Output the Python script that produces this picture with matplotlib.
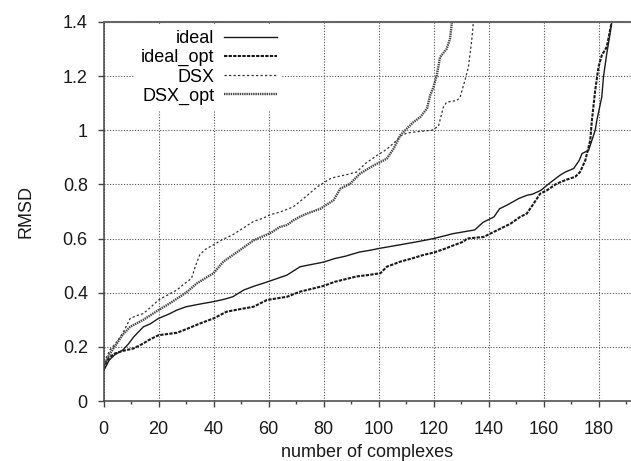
import matplotlib
matplotlib.use("Agg")
import matplotlib.pyplot as plt
from matplotlib.ticker import MultipleLocator

plt.rcParams['font.family'] = ['Liberation Sans', 'DejaVu Sans']

# Cumulative RMSD curves: complexes sorted by RMSD for each docking setup
ideal_x = [0, 2, 4, 7, 9, 11, 14.5, 17, 20, 24, 26.7, 30, 35, 40, 44, 47, 51, 55, 59, 63,
           66.7, 71.5, 76, 80, 84, 88, 93, 97, 101, 105, 110, 115, 120, 124, 127, 131, 135,
           138, 142, 144, 147, 151, 154, 156, 159, 162, 166, 168, 171, 173, 174, 176.4,
           177.6, 178.8, 179.4, 181.2, 181.8, 183, 184.2, 184.8, 185.5]
ideal_y = [0.11, 0.15, 0.17, 0.188, 0.21, 0.237, 0.274, 0.285, 0.305, 0.322, 0.336, 0.348,
           0.358, 0.367, 0.376, 0.385, 0.41, 0.425, 0.438, 0.452, 0.465, 0.496, 0.505,
           0.513, 0.526, 0.535, 0.55, 0.557, 0.565, 0.572, 0.581, 0.59, 0.6, 0.61, 0.618,
           0.625, 0.632, 0.66, 0.68, 0.71, 0.725, 0.748, 0.76, 0.764, 0.778, 0.803, 0.834,
           0.846, 0.859, 0.889, 0.914, 0.926, 0.963, 1.0, 1.037, 1.123, 1.197, 1.283, 1.357,
           1.4, 1.45]

ideal_opt_x = [0, 2, 4, 7, 10.9, 14, 17, 20, 26.7, 30, 35, 40, 44.8, 50, 54.5, 59.4, 66.7,
               71.5, 76, 80, 84, 88, 92, 96, 100.7, 103, 108, 112, 116.5, 120, 124, 127.3,
               131, 132.1, 138.2, 141, 144.2, 148, 151.5, 153.9, 156.4, 158.8, 161.2, 164.8,
               168.5, 171.5, 173.3, 175.2, 177, 177.6, 178.8, 180, 181.2, 183, 184.2, 184.8,
               185.3]
ideal_opt_y = [0.12, 0.16, 0.175, 0.185, 0.194, 0.21, 0.228, 0.243, 0.252, 0.265, 0.286,
               0.305, 0.33, 0.34, 0.348, 0.373, 0.385, 0.404, 0.415, 0.425, 0.44, 0.45,
               0.46, 0.465, 0.472, 0.496, 0.515, 0.526, 0.54, 0.548, 0.562, 0.575, 0.589,
               0.6, 0.606, 0.62, 0.636, 0.655, 0.68, 0.692, 0.729, 0.766, 0.778, 0.803,
               0.818, 0.828, 0.846, 0.889, 0.963, 1.037, 1.147, 1.234, 1.277, 1.308, 1.369,
               1.4, 1.45]

dsx_x = [0, 1, 2.4, 5, 7.5, 9.7, 12, 14.5, 17, 20, 23, 26.7, 29, 32, 33.5, 35, 37, 40, 43,
         47, 51, 54.5, 58, 60.6, 64.2, 69, 73, 77.6, 82.4, 84.2, 88, 92.1, 95.2, 99.4, 103,
         106, 107.9, 110.3, 115.2, 119.4, 121.8, 123.6, 124.8, 128.5, 129.7, 131.5, 132.7,
         133.9, 134.5, 135]
dsx_y = [0.126, 0.16, 0.19, 0.22, 0.26, 0.305, 0.315, 0.323, 0.345, 0.373, 0.39, 0.41,
         0.43, 0.453, 0.5, 0.54, 0.56, 0.577, 0.595, 0.614, 0.64, 0.663, 0.675, 0.688,
         0.698, 0.717, 0.75, 0.79, 0.821, 0.827, 0.835, 0.846, 0.877, 0.907, 0.93, 0.957,
         0.978, 0.99, 0.996, 1.0, 1.015, 1.086, 1.104, 1.11, 1.123, 1.187, 1.234, 1.332,
         1.4, 1.45]

dsx_opt_x = [0, 2, 4.8, 7, 9.7, 14.5, 20, 24, 30, 34, 40, 43.6, 49.7, 54.5, 60.6, 64.2,
             66.7, 69, 71.5, 73.9, 78.8, 83.6, 86.1, 89.7, 93.3, 98.2, 103, 105.5, 107.9,
             110.3, 112.7, 115.2, 117.6, 118.8, 120, 121.2, 122.4, 124.8, 126, 126.7, 127]
dsx_opt_y = [0.126, 0.17, 0.212, 0.245, 0.274, 0.3, 0.336, 0.36, 0.4, 0.435, 0.472, 0.515,
             0.558, 0.593, 0.62, 0.643, 0.65, 0.667, 0.681, 0.692, 0.71, 0.741, 0.784,
             0.803, 0.84, 0.87, 0.895, 0.932, 0.981, 1.006, 1.03, 1.049, 1.08, 1.129, 1.16,
             1.203, 1.271, 1.301, 1.338, 1.4, 1.45]

fig = plt.figure(figsize=(6.31, 4.61), dpi=100)
W, H = 631, 461
ax = fig.add_axes([103.5 / W, 60 / H, 528 / W, 379 / H])

ax.plot(ideal_x, ideal_y, color='#1a1a1a', lw=1.0, ls='-', label='ideal')
ax.plot(ideal_opt_x, ideal_opt_y, color='#1a1a1a', lw=1.5, dashes=(1.6, 0.6), label='ideal_opt')
ax.plot(dsx_x, dsx_y, color='#333333', lw=0.9, dashes=(1.8, 1.8), label='DSX')
ax.plot(dsx_opt_x, dsx_opt_y, color='#444444', lw=1.7, dashes=(0.6, 0.35), label='DSX_opt')

ax.set_xlim(0, 192)
ax.set_ylim(0, 1.4)
ax.xaxis.set_major_locator(MultipleLocator(20))
ax.xaxis.set_minor_locator(MultipleLocator(10))
ax.set_yticks([0, 0.2, 0.4, 0.6, 0.8, 1.0, 1.2, 1.4])
ax.set_yticklabels(['0', '0.2', '0.4', '0.6', '0.8', '1', '1.2', '1.4'])

ax.grid(True, which='major', color='#555555', lw=0.8, ls=(0, (1, 1.5)))

for side in ('left', 'bottom'):
    ax.spines[side].set_color('#444444')
    ax.spines[side].set_linewidth(1.1)
    ax.spines[side].set_zorder(6)
ax.spines['top'].set_color('#666666')
ax.spines['top'].set_linewidth(1.5)
ax.spines['top'].set_zorder(6)
ax.spines['right'].set_visible(False)

ax.tick_params(which='major', direction='out', length=4.3, width=1.0, color='#444444',
               labelsize=13, pad=7, labelcolor='#1a1a1a')
ax.tick_params(axis='x', which='major', pad=10)
ax.tick_params(axis='x', which='minor', direction='out', length=2.2, width=1.0,
               color='#444444')
ax.tick_params(top=False, right=False)

ax.set_xlabel('number of complexes', fontsize=13, color='#1a1a1a', labelpad=4.5)
ax.set_ylabel('RMSD', fontsize=13, color='#1a1a1a', labelpad=20)

leg = ax.legend(loc='upper right', bbox_to_anchor=(0.338, 0.993), markerfirst=False,
                fontsize=13, handlelength=2.9, handletextpad=0.55, labelspacing=0.12,
                borderpad=0.3, borderaxespad=0, frameon=True, fancybox=False,
                framealpha=1.0, facecolor='white', edgecolor='none')
leg.set_zorder(5)

fig.savefig('out.png', dpi=100)
